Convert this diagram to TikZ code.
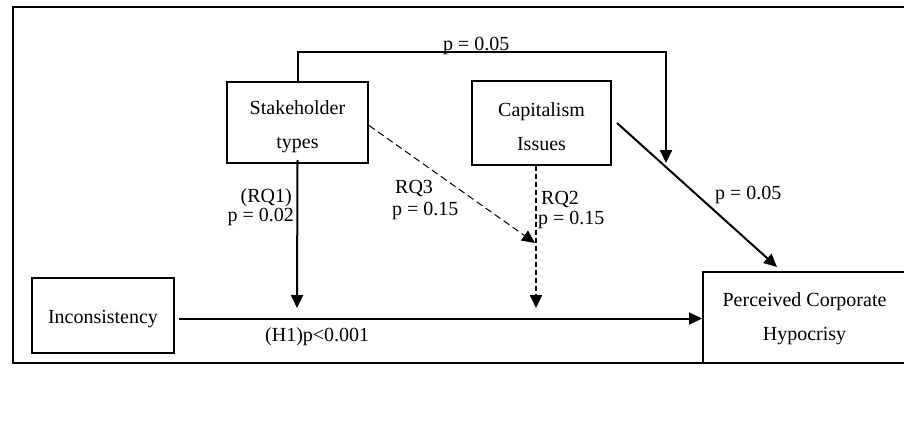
\documentclass[tikz,border=0pt]{standalone}
\usepackage{fontspec}
\setmainfont{Liberation Serif}
\usetikzlibrary{arrows.meta,calc}
\tikzset{
  boxtext/.style={inner sep=0pt, align=center, font=\fontsize{20}{34}\selectfont},
  box/.style={draw, line width=2pt, inner sep=0pt,
    label={[boxtext, yshift=-4pt]center:{#1}}},
  boxp/.style={draw, line width=2pt, inner sep=0pt,
    label={[boxtext, yshift=-1pt]center:{#1}}},
  lbl/.style={inner sep=0pt, font=\fontsize{20}{22}\selectfont},
  arr/.style={line width=2pt, -{Triangle[length=13pt,width=12pt]}},
  darr/.style={line width=2pt, dash pattern=on 5pt off 3pt, -{Triangle[length=13pt,width=12pt]}},
  tarr/.style={line width=1pt, dash pattern=on 7pt off 4pt, -{Triangle[length=13pt,width=12pt]}}
}
\begin{document}
\begin{tikzpicture}[x=1pt,y=-1pt]
\useasboundingbox (0,0) rectangle (904,420);
\fill[white] (0,0) rectangle (904,420);
\clip (0,0) rectangle (904,420);
\draw[line width=2.5pt] (13,7) rectangle (910,363);

\node[box={Stakeholder\\types}, minimum width=141, minimum height=81] (stake) at (297.5,122.5) {};
\node[box={Capitalism\\Issues}, minimum width=139, minimum height=84] (cap) at (541.5,123) {};
\node[box={Inconsistency}, minimum width=142, minimum height=75] (inc) at (103,315.5) {};
\node[boxp={Perceived Corporate\\Hypocrisy}, minimum width=203, minimum height=91] (pch) at (804.5,317.5) {};

\coordinate (m1) at (297,308);
\coordinate (m2) at (536,308);
\coordinate (m3) at (535,243);
\coordinate (mtop) at (666,163);
\coordinate (pchtop) at (777,267);
\coordinate (hstart) at (179,318.5);

% top path
\draw[arr] (stake.north) -- ++(0,-29) -| (mtop);
% capitalism -> PCH
\draw[arr] ([xshift=5pt]cap.east) -- (pchtop);
% stakeholder dashed diagonal
\draw[tarr] ([yshift=-3pt]stake.east) -- (m3);
% capitalism dashed vertical
\draw[darr] ([xshift=-5.5pt]cap.south) -- (m2);
% RQ1
\draw[arr] ([yshift=4pt]stake.south) -- (m1);
% main path
\draw[arr] (hstart) -- (hstart -| pch.west);

\node[lbl, anchor=base west] (l1) at (443,50.5) {p = 0.05};
\node[lbl, anchor=base west] (l2) at (715,199) {p = 0.05};
\node[lbl, anchor=base east] (l3) at (292,202) {(RQ1)};
\node[lbl, anchor=base east] (l4) at (294,221) {p = 0.02};
\node[lbl, anchor=base west] (l5) at (395,193) {RQ3};
\node[lbl, anchor=base west] (l6) at (392,215) {p = 0.15};
\node[lbl, anchor=base west] (l7) at (541,204.5) {RQ2};
\node[lbl, anchor=base west] (l8) at (538,224.5) {p = 0.15};
\node[lbl, anchor=base west] (l9) at (265,341.5) {(H1)p<0.001};
\end{tikzpicture}
\end{document}
